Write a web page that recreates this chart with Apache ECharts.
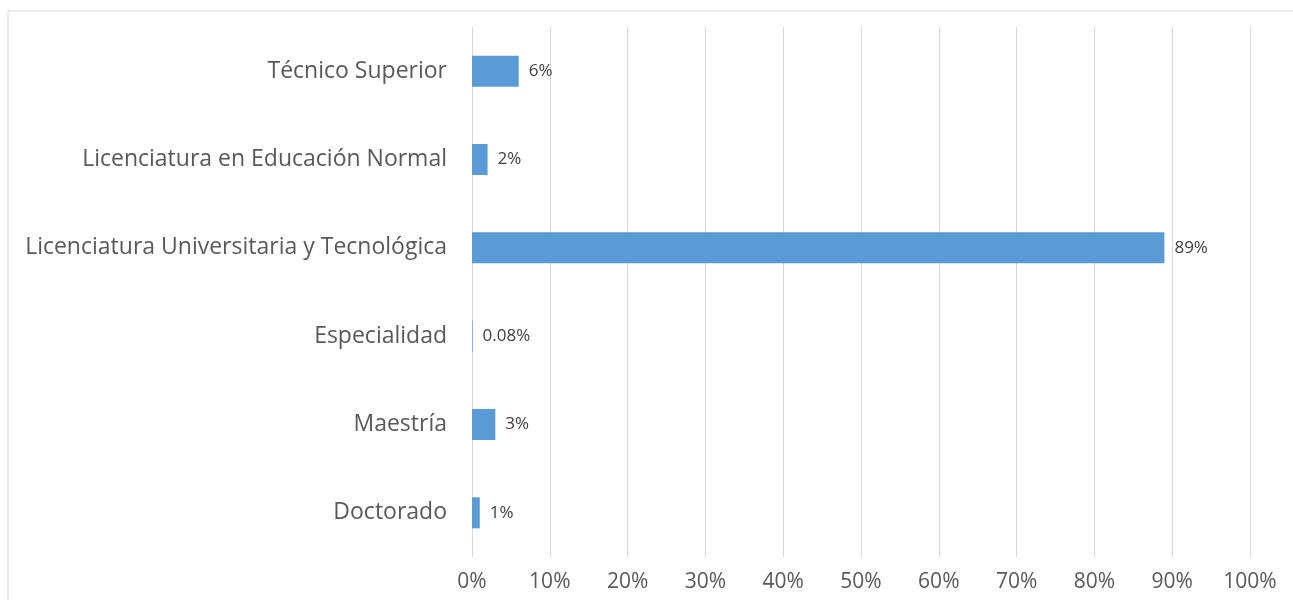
<!DOCTYPE html>
<html>
<head>
<meta charset="utf-8">
<script src="https://cdn.jsdelivr.net/npm/echarts@6/dist/echarts.min.js"></script>
<style>
html, body { margin: 0; padding: 0; background: #fff; }
#chart { width: 1293px; height: 600px; }
</style>
</head>
<body>
<div id="chart"></div>
<script>
// niveles de estudio, de arriba hacia abajo
var categories = ['Técnico Superior', 'Licenciatura en Educación Normal', 'Licenciatura Universitaria y Tecnológica', 'Especialidad', 'Maestría', 'Doctorado'];
var values = [6, 2, 89, 0.08, 3, 1];

var chart = echarts.init(document.getElementById('chart'));

chart.setOption({
    animation: false,
    textStyle: { fontFamily: 'Open Sans' },
    graphic: [
        {
            type: 'rect',
            shape: { x: 8, y: 11, width: 1400, height: 700 },
            style: { fill: 'none', stroke: '#d9d9d9', lineWidth: 1 },
            silent: true
        }
    ],
    grid: {
        left: 472,
        right: 43,
        top: 27,
        bottom: 43
    },
    xAxis: {
        type: 'value',
        min: 0,
        max: 100,
        interval: 10,
        axisLine: { show: false },
        axisTick: { show: false },
        splitLine: { lineStyle: { color: '#d9d9d9', width: 1 } },
        axisLabel: {
            formatter: '{value}%',
            color: '#595959',
            fontSize: 21,
            margin: 15
        }
    },
    yAxis: {
        type: 'category',
        inverse: true,
        data: categories,
        axisLine: { show: false },
        axisTick: { show: false },
        axisLabel: {
            color: '#595959',
            fontSize: 23,
            margin: 25
        }
    },
    series: [
        {
            type: 'bar',
            data: values,
            barWidth: 31,
            itemStyle: { color: '#5b9bd5' },
            label: {
                show: true,
                position: 'right',
                distance: 10,
                color: '#404040',
                fontSize: 17,
                formatter: function (p) { return p.value + '%'; }
            }
        }
    ]
});
</script>
</body>
</html>
